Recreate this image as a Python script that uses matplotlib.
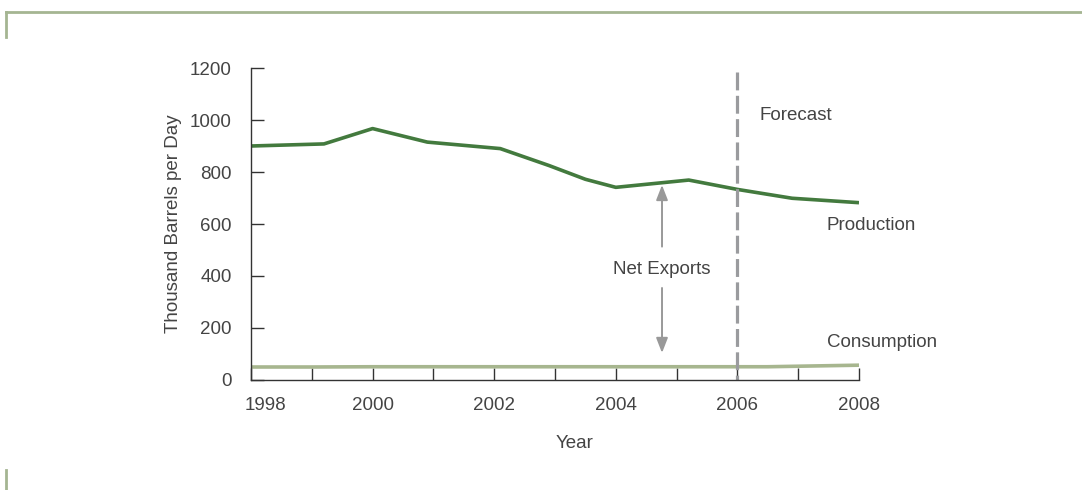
import matplotlib.pyplot as plt
import matplotlib.transforms as mtransforms
from matplotlib.lines import Line2D

plt.rcParams['font.family'] = ['Liberation Sans', 'DejaVu Sans']

# values
prod_years = [1998.0, 1999.2, 2000.0, 2000.9, 2002.1, 2002.9, 2003.5, 2004.0, 2005.2, 2006.0, 2006.9, 2008.0]
production = [900, 908, 967, 915, 890, 825, 772, 741, 769, 733, 699, 682]
cons_years = [1998, 1999, 2000, 2001, 2002, 2003, 2004, 2005, 2006, 2006.5, 2007, 2008]
consumption = [50, 50, 51, 51, 51, 51, 51, 51, 51, 51, 53, 57]
years = list(range(1998, 2009))
year_labels = ['1998', '', '2000', '', '2002', '', '2004', '', '2006', '', '2008']
yticks = [0, 200, 400, 600, 800, 1000, 1200]

txt = '#444444'
fs = 13.5
fig = plt.figure(figsize=(10.82, 4.90), dpi=100)
ax = fig.add_axes([251/1082, 1-380/490, 608/1082, 312/490])

ax.plot(prod_years, production, color='#437a3e', lw=2.6, solid_capstyle='butt')
ax.plot(cons_years, consumption, color='#a7b68f', lw=2.6, solid_capstyle='butt')
# forecast divider, drawn top-down so a dash starts at the top
ax.plot([2006, 2006], [1185, 0], color='#9a9b9e', lw=2.3, dashes=(5.6, 1.7))

ax.set_xlim(1998, 2008)
ax.set_ylim(0, 1200)
ax.set_xticks(years)
ax.set_xticklabels(year_labels)
ax.set_yticks(yticks)
ax.tick_params(direction='in', length=9, width=1, color='#333333',
               labelsize=fs, labelcolor=txt)
ax.tick_params(axis='x', pad=12)
ax.tick_params(axis='y', pad=14)
for s in ['top', 'right']:
    ax.spines[s].set_visible(False)
for s in ['left', 'bottom']:
    ax.spines[s].set_color('#333333')
    ax.spines[s].set_linewidth(1)

# first year label sits a bit to the right
lab = ax.get_xticklabels()[0]
lab.set_transform(lab.get_transform() + mtransforms.ScaledTranslation(0.14, 0, fig.dpi_scale_trans))

fig.text(173/1082, 1-224/490, 'Thousand Barrels per Day', fontsize=fs, color=txt,
         rotation=90, ha='center', va='center')
fig.text(575/1082, 1-443/490, 'Year', fontsize=fs, color=txt, ha='center', va='center')

ax.text(2006.37, 1019, 'Forecast', fontsize=fs, color=txt, va='center')
ax.text(2007.47, 596, 'Production', fontsize=fs, color=txt, va='center')
ax.text(2007.47, 143, 'Consumption', fontsize=fs, color=txt, va='center')
ax.text(2004.76, 426, 'Net Exports', fontsize=fs, color=txt, ha='center', va='center')

arrow = dict(arrowstyle='-|>,head_length=0.9,head_width=0.35', color='#999999', lw=1.4, shrinkA=0, shrinkB=0)
ax.annotate('', xy=(2004.76, 750), xytext=(2004.76, 513), arrowprops=arrow)
ax.annotate('', xy=(2004.76, 104), xytext=(2004.76, 354), arrowprops=arrow)

# frame pieces
bc = '#a5b592'
fig.add_artist(Line2D([6/1082, 1], [1-12/490, 1-12/490], color=bc, lw=2, transform=fig.transFigure))
fig.add_artist(Line2D([6/1082, 6/1082], [1-12/490, 1-37/490], color=bc, lw=2, transform=fig.transFigure))
fig.add_artist(Line2D([6/1082, 6/1082], [1-470/490, 0], color=bc, lw=2, transform=fig.transFigure))

fig.savefig('out.png', dpi=100)
